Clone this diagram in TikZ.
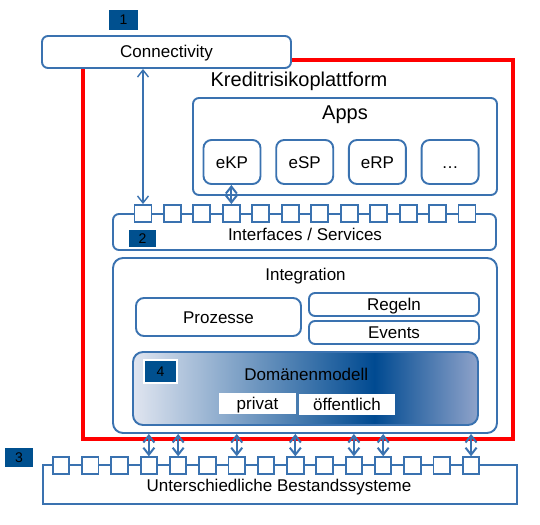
\documentclass[tikz,border=0pt]{standalone}
\usepackage{fontspec}
\setmainfont{Liberation Sans}
\usetikzlibrary{arrows.meta}

\definecolor{boxblue}{RGB}{58,114,176}
\definecolor{tagblue}{RGB}{0,80,143}
\definecolor{domlight}{RGB}{224,229,240}
\definecolor{domdark}{RGB}{0,74,145}
\definecolor{domright}{RGB}{143,163,202}
\pgfdeclarehorizontalshading{dommodell}{100bp}{color(0bp)=(domlight); color(25bp)=(domlight); color(60bp)=(domdark); color(75bp)=(domright); color(100bp)=(domright)}

\begin{document}
\begin{tikzpicture}[x=1pt,y=-1pt,font=\fontsize{17}{20}\selectfont,
  box/.style={draw=boxblue,line width=1.9pt,rounded corners=6pt,fill=white,inner sep=0pt,text height=12pt,text depth=0pt},
  port/.style={draw=boxblue,line width=1.9pt,fill=white,minimum size=17pt,inner sep=0pt},
  tag/.style={fill=tagblue,draw=white,line width=1.5pt,inner sep=0pt,font=\fontsize{14}{16}\selectfont},
  title/.style={inner sep=0pt,anchor=base},
  link/.style={<->,>={Straight Barb[length=7pt,width=11pt]},draw=boxblue,line width=2pt}]

\useasboundingbox (0,0) rectangle (540,524);

% Plattform
\node[draw=red,line width=4pt,minimum width=430pt,minimum height=379pt,inner sep=0pt] (platform) at (298,249.5) {};
\node[title,font=\fontsize{20}{24}\selectfont] (platformtitle) at (299,86.5) {Kreditrisikoplattform};

\node[box,minimum width=249pt,minimum height=32pt] (conn) at (166.5,52) {Connectivity};
\node[tag,draw=none,minimum width=29pt,minimum height=20pt] (tag1) at (123.5,20) {1};

% Apps
\node[box,minimum width=304pt,minimum height=97pt] (apps) at (345,146.5) {};
\node[title,font=\fontsize{20}{24}\selectfont] (appstitle) at (345,119.3) {Apps};
\foreach \n/\t [count=\i] in {ekp/eKP,esp/eSP,erp/eRP,more/…}
  \node[box,rounded corners=8pt,minimum width=57pt,minimum height=44pt] (\n) at ({232+72.7*(\i-1)},162) {\t};

% Interfaces / Services
\node[box,minimum width=383pt,minimum height=36pt] (ifc) at (304.5,232) {};
\node[title] (ifctitle) at (305,240.7) {Interfaces / Services};
\foreach \i in {1,...,12}
  \node[port] (s\i) at ({143+29.45*(\i-1)},213.5) {};
\node[tag,minimum width=29pt,minimum height=19pt] (tag2) at (142.5,238.5) {2};

% Integration
\node[box,rounded corners=10pt,minimum width=384pt,minimum height=175pt] (integ) at (305,345.5) {};
\node[title] (integtitle) at (305.5,280) {Integration};
\node[box,rounded corners=8pt,minimum width=165pt,minimum height=38pt] (proz) at (218.5,317) {Prozesse};
\node[box,minimum width=170pt,minimum height=23pt] (regeln) at (394,304.5) {Regeln};
\node[box,minimum width=170pt,minimum height=23pt] (events) at (394,332.5) {Events};

% Domaenenmodell
\node[draw=boxblue,line width=1.9pt,rounded corners=10pt,shading=dommodell,minimum width=345pt,minimum height=73pt] (dom) at (305.5,388.5) {};
\node[title] (domtitle) at (306.3,380.7) {Domänenmodell};
\node[tag,minimum width=33pt,minimum height=23pt] (tag4) at (160.5,371.5) {4};
\node[fill=white,inner sep=0pt,minimum width=77pt,minimum height=21pt,text height=12pt,text depth=0pt] (privat) at (257.5,403.5) {privat};
\node[fill=white,inner sep=0pt,minimum width=96pt,minimum height=21pt,text height=12pt,text depth=0pt] (oeff) at (347,404) {öffentlich};

% Bestandssysteme
\node[box,rounded corners=0pt,minimum width=474pt,minimum height=39pt] (bestand) at (280,484.5) {};
\node[title] (bestandtitle) at (279,491.5) {Unterschiedliche Bestandssysteme};
\foreach \i in {1,...,15}
  \node[port,minimum size=16.5pt] (b\i) at ({61+29.29*(\i-1)},465.5) {};
\node[tag,draw=none,minimum width=28pt,minimum height=19pt] (tag3) at (19,457.5) {3};

% Verbindungen
\draw[link,line width=1.4pt] (s1.north |- conn.south) -- (s1.north);
\draw[link] (s4.north |- ekp.south) -- (s4.north);
\foreach \i in {4,5,7,9,11,12,15}
  \draw[link] (b\i.north |- integ.south) -- (b\i.north);
\end{tikzpicture}
\end{document}
